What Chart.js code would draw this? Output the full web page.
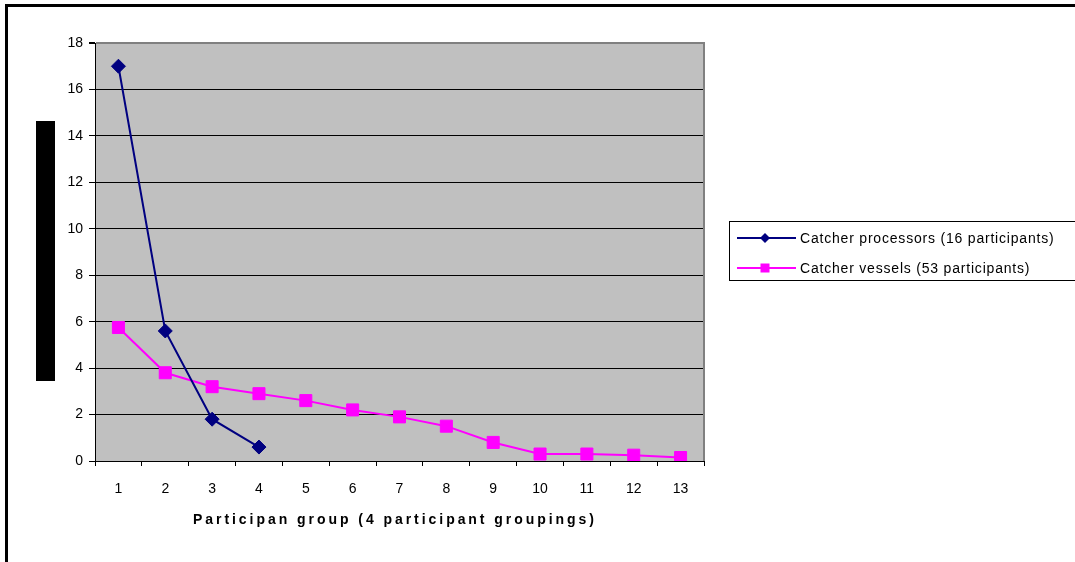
<!DOCTYPE html>
<html>
<head>
<meta charset="utf-8">
<script src="https://cdn.jsdelivr.net/npm/chart.js@4/dist/chart.umd.min.js"></script>
<style>
  html, body { margin: 0; padding: 0; background: #fff; overflow: hidden; }
  #wrap { position: relative; width: 1075px; height: 562px; }
</style>
</head>
<body>
<div id="wrap"><canvas id="c" width="1075" height="562"></canvas></div>
<script>
const categories = ['1','2','3','4','5','6','7','8','9','10','11','12','13'];
const processorLabel = 'Catcher processors (16 participants)';
const vesselLabel = 'Catcher vessels (53 participants)';
const processors = [17, 5.6, 1.8, 0.6, null, null, null, null, null, null, null, null, null];
const vessels = [5.75, 3.8, 3.2, 2.9, 2.6, 2.2, 1.9, 1.5, 0.8, 0.3, 0.3, 0.25, 0.15];
const xTitle = 'Participan group (4 participant groupings)';
const yTicks = [0, 2, 4, 6, 8, 10, 12, 14, 16, 18];

const FONT = '"Liberation Sans", Arial, sans-serif';

const decor = {
  id: 'decor',
  beforeDraw(chart) {
    const ctx = chart.ctx, a = chart.chartArea;
    ctx.save();
    ctx.fillStyle = '#fff';
    ctx.fillRect(0, 0, chart.width, chart.height);
    // outer frame (top + left visible)
    ctx.fillStyle = '#000';
    ctx.fillRect(5, 4, chart.width, 3);
    ctx.fillRect(5, 4, 3, chart.height);
    // redacted y-axis title block
    ctx.fillRect(36, 121, 19, 260);
    // plot background
    ctx.fillStyle = '#C0C0C0';
    ctx.fillRect(a.left, a.top, a.right - a.left, a.bottom - a.top);
    ctx.restore();
  },
  beforeDatasetsDraw(chart) {
    const ctx = chart.ctx, a = chart.chartArea;
    ctx.save();
    ctx.strokeStyle = '#808080';
    ctx.lineWidth = 2;
    ctx.beginPath();
    ctx.moveTo(a.right, a.top - 1);
    ctx.lineTo(a.right, a.bottom);
    ctx.stroke();
    ctx.restore();
  },
  afterDraw(chart) {
    const ctx = chart.ctx, a = chart.chartArea;
    ctx.save();
    // x-axis title with letter spacing
    ctx.fillStyle = '#000';
    ctx.font = 'bold 14px ' + FONT;
    ctx.textAlign = 'left';
    ctx.textBaseline = 'alphabetic';
    try { ctx.letterSpacing = '0px'; } catch (e) {}
    const w0 = ctx.measureText(xTitle).width;
    const sp = Math.max(0, (404 - w0) / xTitle.length);
    try { ctx.letterSpacing = sp.toFixed(2) + 'px'; } catch (e) {}
    ctx.fillText(xTitle, a.left + 98, 524);
    try { ctx.letterSpacing = '0px'; } catch (e) {}
    // legend
    ctx.strokeStyle = '#000';
    ctx.lineWidth = 1;
    ctx.strokeRect(729.5, 221.5, 400, 59);
    chart.data.datasets.forEach((ds, i) => {
      const y = 238 + i * 30;
      ctx.strokeStyle = ds.borderColor;
      ctx.lineWidth = 2;
      ctx.beginPath();
      ctx.moveTo(737, y);
      ctx.lineTo(796, y);
      ctx.stroke();
      ctx.fillStyle = ds.pointBackgroundColor;
      ctx.beginPath();
      if (ds.pointStyle === 'rectRot') {
        const r = 5;
        ctx.moveTo(765, y - r); ctx.lineTo(765 + r, y);
        ctx.lineTo(765, y + r); ctx.lineTo(765 - r, y);
        ctx.closePath();
      } else {
        ctx.rect(765 - 4.5, y - 4.5, 9, 9);
      }
      ctx.fill();
      ctx.fillStyle = '#000';
      ctx.font = '14px ' + FONT;
      try { ctx.letterSpacing = '0.8px'; } catch (e) {}
      ctx.textAlign = 'left';
      ctx.textBaseline = 'middle';
      ctx.fillText(ds.label, 800, y + 1);
      try { ctx.letterSpacing = '0px'; } catch (e) {}
    });
    ctx.restore();
  }
};

new Chart(document.getElementById('c'), {
  type: 'line',
  data: {
    labels: categories,
    datasets: [
      {
        label: processorLabel,
        data: processors,
        borderColor: '#000080',
        backgroundColor: '#000080',
        pointBackgroundColor: '#000080',
        pointBorderColor: '#000080',
        borderWidth: 2,
        pointStyle: 'rectRot',
        pointRadius: 7,
        pointBorderWidth: 1,
        tension: 0,
        spanGaps: false
      },
      {
        label: vesselLabel,
        data: vessels,
        borderColor: '#FF00FF',
        backgroundColor: '#FF00FF',
        pointBackgroundColor: '#FF00FF',
        pointBorderColor: '#FF00FF',
        borderWidth: 2,
        pointStyle: 'rect',
        pointRadius: 8.5,
        pointBorderWidth: 1,
        tension: 0
      }
    ]
  },
  options: {
    responsive: false,
    animation: false,
    devicePixelRatio: 1,
    layout: { padding: { left: 0, top: 43, right: 371, bottom: 0 } },
    plugins: {
      legend: { display: false },
      tooltip: { enabled: false },
      title: { display: false }
    },
    scales: {
      x: {
        type: 'category',
        offset: true,
        afterFit(scale) { scale.height = 101; },
        grid: {
          offset: true,
          drawOnChartArea: false,
          drawTicks: true,
          tickLength: 5,
          color: '#000',
          tickColor: '#000'
        },
        border: { display: true, color: '#000', width: 1 },
        ticks: {
          color: '#000',
          font: { family: FONT, size: 14 },
          padding: 15,
          maxRotation: 0,
          autoSkip: false
        }
      },
      y: {
        min: 0,
        max: 18,
        afterFit(scale) { scale.width = 95; },
        afterBuildTicks(scale) { scale.ticks = yTicks.map(v => ({ value: v })); },
        grid: {
          drawTicks: true,
          tickLength: 6,
          color: ctx => (ctx.tick && ctx.tick.value === 18) ? '#808080' : '#000',
          lineWidth: ctx => (ctx.tick && ctx.tick.value === 18) ? 2 : 1,
          tickColor: '#000'
        },
        border: { display: true, color: '#000', width: 1 },
        ticks: {
          color: '#000',
          font: { family: FONT, size: 14 },
          padding: 6
        }
      }
    }
  },
  plugins: [decor]
});
</script>
</body>
</html>
